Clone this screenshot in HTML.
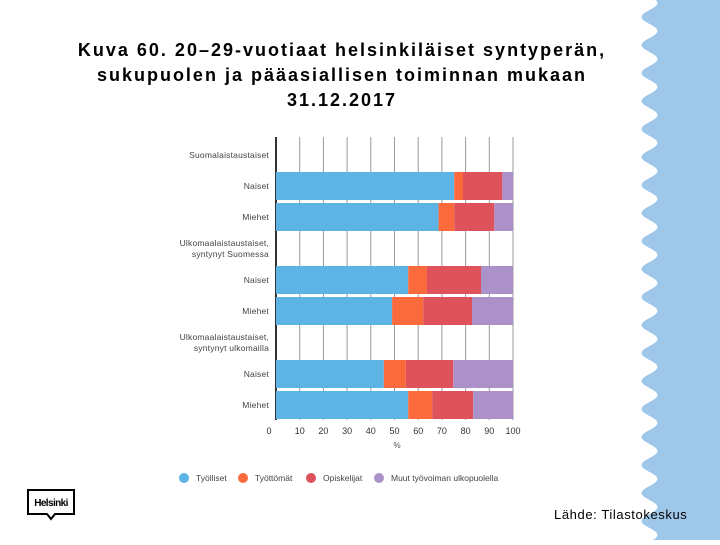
<!DOCTYPE html>
<html><head><meta charset="utf-8"><style>
body{margin:0;width:720px;height:540px;overflow:hidden;background:#fff;font-family:"Liberation Sans",sans-serif}
</style></head><body>
<svg width="720" height="540">
<path id="wave" fill="#9fc7ea" d=""/>
<text x="342" y="56" text-anchor="middle" font-size="18" font-weight="bold" fill="#000" letter-spacing="2"><tspan x="342" y="56">Kuva 60. 20–29-vuotiaat helsinkiläiset syntyperän,</tspan><tspan x="342" y="81">sukupuolen ja pääasiallisen toiminnan mukaan</tspan><tspan x="342" y="106">31.12.2017</tspan></text>
<g id="chart"></g>
<g>
<path d="M28 490 H74 V514 H55 L51 519 L47 514 H28 Z" fill="#fff" stroke="#000" stroke-width="2"/>
<text x="51" y="506" text-anchor="middle" font-size="10" font-weight="bold" fill="#000" letter-spacing="-0.6">Helsinki</text>
</g>
<text x="554" y="519" font-size="13" fill="#000" letter-spacing="0.6">Lähde: Tilastokeskus</text>
</svg>
<script>
const categories=["Naiset","Miehet","Naiset","Miehet","Naiset","Miehet"];
const tyolliset=[75.2,68.6,55.8,49,45.5,55.8];
const tyottomat=[3.7,6.6,7.9,13.1,9.3,10.1];
const opiskelijat=[16.6,16.9,22.8,20.6,20,17.3];
const muut=[4.5,7.9,13.5,17.3,25.2,16.8];
const ticks=[0,10,20,30,40,50,60,70,80,90,100];
const seriesNames=["Työlliset","Työttömät","Opiskelijat","Muut työvoiman ulkopuolella"];
const colors=["#5db3e4","#fa6a3c","#de525b","#ab91c7"];
const NS="http://www.w3.org/2000/svg";
let d="M720 0 L655 0";
for(let y=0;y<=540;y+=1){const x=649.5+8*Math.sin((y+4)/28*2*Math.PI);d+=" L"+x.toFixed(1)+" "+y;}
d+=" L720 540 Z";
document.getElementById('wave').setAttribute('d',d);
const g=document.getElementById('chart');
const x0=276,x1=513;
const xs=v=>x0+(x1-x0)*v/100;
const barY=[172,203,266,297,360,391],barH=28;
function el(t,a){const e=document.createElementNS(NS,t);for(const k in a)e.setAttribute(k,a[k]);g.appendChild(e);return e;}
ticks.forEach(t=>{
 const l=el('line',{x1:xs(t),x2:xs(t),y1:137,y2:420,stroke:t===0?'#333':'#999','stroke-width':t===0?2:1});
 
 
 const tx=el('text',{x:t===0?269:xs(t),y:434,'text-anchor':'middle','font-size':9,fill:'#333'});
 tx.textContent=t;
 
 
});
const xt=el('text',{x:397,y:448,'text-anchor':'middle','font-size':8,fill:'#555'});xt.textContent='%';


const groups=[[158,["Suomalaistaustaiset"]],[246,["Ulkomaalaistaustaiset,","syntynyt Suomessa"]],[340,["Ulkomaalaistaustaiset,","syntynyt ulkomailla"]]];
groups.forEach(([y,lines])=>{lines.forEach((s,i)=>{const t=el('text',{x:269,y:y+i*11,'text-anchor':'end','font-size':8.5,fill:'#444','letter-spacing':0.2});t.textContent=s;
 
 });});
const series=[tyolliset,tyottomat,opiskelijat,muut];
categories.forEach((c,i)=>{
 const t=el('text',{x:269,y:barY[i]+barH/2+3,'text-anchor':'end','font-size':8.5,fill:'#444','letter-spacing':0.2});t.textContent=c;
 
 
 let acc=0;
 series.forEach((s,k)=>{
  const r=el('rect',{x:xs(acc),y:barY[i],width:xs(acc+s[i])-xs(acc),height:barH,fill:colors[k]});
  
  
  acc+=s[i];
 });
});
const lx=[184,243,311,379];
seriesNames.forEach((n,k)=>{
 const c=el('circle',{cx:lx[k],cy:478,r:5,fill:colors[k]});
 
 
 const t=el('text',{x:lx[k]+12,y:481,'font-size':8.5,fill:'#444'});t.textContent=n;
 
 
});
</script>
</body></html>
